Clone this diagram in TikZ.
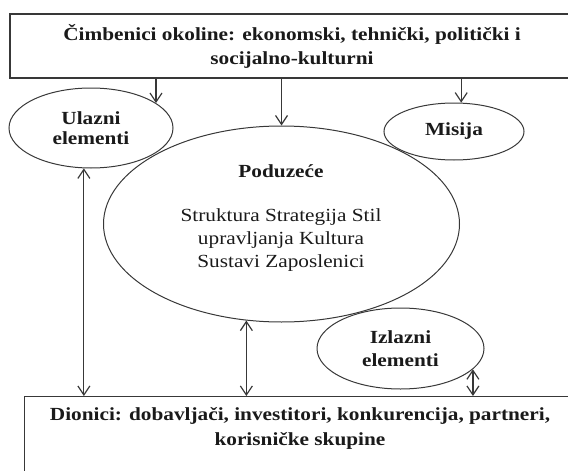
\documentclass[tikz,border=0pt]{standalone}
\usepackage{fontspec}
\setmainfont{Liberation Serif}[FakeStretch=1.15]
\usetikzlibrary{shapes.geometric,arrows.meta}
\definecolor{linec}{HTML}{383838}
\definecolor{txtc}{HTML}{1A1A1A}
\begin{document}
\begin{tikzpicture}[x=1pt,y=-1pt,
  box/.style={draw=linec, line width=1.2pt, rectangle, inner sep=0pt},
  ell/.style={draw=linec, line width=1pt, ellipse, inner sep=0pt},
  btxt/.style={align=center, font=\fontsize{18.5}{24}\selectfont\bfseries, text=txtc, inner sep=0pt},
  rtxt/.style={align=center, font=\fontsize{18.5}{23}\selectfont, text=txtc, inner sep=0pt},
  arr/.style={draw=linec, line width=1.2pt, -{Straight Barb[length=9pt,width=12pt]}},
  dbl/.style={draw=linec, line width=1.2pt, {Straight Barb[length=9pt,width=12pt]}-{Straight Barb[length=9pt,width=12pt]}}
]
\useasboundingbox (0,0) rectangle (568,471);
% boxes
\node[box, minimum width=566pt, minimum height=64pt] (env) at (293,46) {};
\node[btxt] (envt) at (292,46) {Čimbenici okoline: ekonomski, tehnički, politički i\\socijalno-kulturni};
\node[box, minimum width=552pt, minimum height=100pt, anchor=north west] (D) at (24,396) {};
\node[btxt, font=\fontsize{18.5}{25}\selectfont\bfseries] (Dt) at (300,428) {Dionici: dobavljači, investitori, konkurencija, partneri,\\korisničke skupine};
% ellipses
\node[ell, minimum width=164pt, minimum height=80pt, btxt, font=\fontsize{18.5}{20}\selectfont\bfseries] (U) at (91,128) {Ulazni\\elementi};
\node[ell, minimum width=140pt, minimum height=57pt, btxt] (M) at (454,131.5) {Misija};
\node[ell, minimum width=356pt, minimum height=196pt] (P) at (281.5,224) {};
\node[rtxt] (Pt) at (281,218) {\textbf{Poduzeće}\\[21pt]Struktura Strategija Stil\\upravljanja Kultura\\Sustavi Zaposlenici};
\node[ell, minimum width=167pt, minimum height=81pt, btxt, font=\fontsize{18.5}{23}\selectfont\bfseries] (I) at (400.5,348.5) {Izlazni\\elementi};
% connectors
\draw[arr] (env.south -| U.21) -- (U.21);
\draw[arr] (env.south -| P.north) -- (P.north);
\draw[arr] (env.south -| M.76) -- (M.76);
\draw[dbl] (U.260) -- (U.260 |- D.north);
\draw[dbl] (P.250) -- (P.250 |- D.north);
\draw[dbl] (I.344) -- (I.344 |- D.north);
\end{tikzpicture}
\end{document}
